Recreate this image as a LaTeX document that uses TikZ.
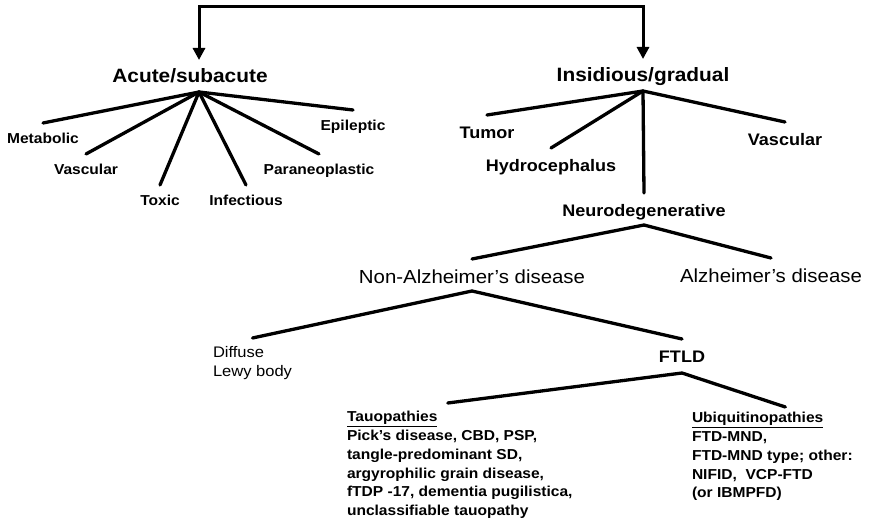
\documentclass[tikz,border=0pt]{standalone}
\usepackage{fontspec}
\setmainfont{Liberation Sans}[FakeStretch=1.08]
\usepackage{tikz}
\usetikzlibrary{positioning,arrows.meta,calc}

\begin{document}
\begin{tikzpicture}[x=1pt,y=-1pt,
	every node/.style={inner sep=0pt,outer sep=0pt,anchor=base},
	head/.style={font=\bfseries\fontsize{19.3}{22}\selectfont,text height=23pt,text depth=9pt},
	leaf/.style={font=\bfseries\fontsize{14.4}{17}\selectfont,text height=21pt},
	mid/.style={font=\bfseries\fontsize{16.7}{20}\selectfont,text height=24pt,text depth=8pt},
	big/.style={font=\fontsize{18.9}{22}\selectfont,text height=24pt,text depth=8pt},
	note/.style={font=\bfseries\fontsize{14.4}{18.7}\selectfont,align=left,anchor=north west},
	branch/.style={line width=3.3pt,line cap=round}]
			\useasboundingbox (0,0) rectangle (874,521);
			
			\node[head] (acute) at (190,83) {Acute/subacute};
			\node[head] (insid) at (643,82) {Insidious/gradual};
			
			\node[leaf] (metab) at (43,144) {Metabolic};
			\node[leaf] (vascl) at (86,175) {Vascular};
			\node[leaf] (toxic) at (160,206) {Toxic};
			\node[leaf] (infect) at (246,206) {Infectious};
			\node[leaf] (paraneo) at (319,175) {Paraneoplastic};
			\node[leaf] (epilep) at (353,131) {Epileptic};
			
			\node[mid] (tumor) at (487,139) {Tumor};
			\node[mid] (hydro) at (551,172) {Hydrocephalus};
			\node[mid] (vascr) at (785,146) {Vascular};
			\node[mid] (neuro) at (644,217) {Neurodegenerative};
			
			\node[big] (nonalz) at (472,283) {Non-Alzheimer’s disease};
			\node[big] (alz) at (771,282) {Alzheimer’s disease};
			
			\node[font=\fontsize{15.3}{19}\selectfont,align=left,anchor=north west,inner ysep=8.8pt] (lewy) at (213,338) {Diffuse\\Lewy body};
			\node[mid,text height=23pt,text depth=11pt] (ftld) at (682,362) {FTLD};
			
			\node[note,inner ysep=8.5pt] (tau) at (347,403) {\underline{Tauopathies}\\Pick’s disease, CBD, PSP,\\tangle-predominant SD,\\argyrophilic grain disease,\\fTDP -17, dementia pugilistica,\\unclassifiable tauopathy};
			\node[note,inner ysep=5.5pt] (ubiq) at (692,407) {\underline{Ubiquitinopathies}\\FTD-MND,\\FTD-MND type; other:\\NIFID,\ \ VCP-FTD\\(or IBMPFD)};
			
			\coordinate (bar) at (420,7);
			\draw[line width=3pt,{Triangle[width=12pt,length=12pt]}-{Triangle[width=12pt,length=12pt]}] ([xshift=9pt]acute.north) |- (bar) -| (insid.north);
			
			\foreach \n in {metab,vascl,toxic,infect,paraneo,epilep}
				\draw[branch] ([xshift=9pt]acute.south) -- (\n.north);
			\foreach \n in {tumor,hydro,vascr,neuro}
				\draw[branch] (insid.south) -- (\n.north);
			
			\draw[branch] (neuro.south) -- (nonalz.north);
			\draw[branch] (neuro.south) -- (alz.north);
			\draw[branch] (nonalz.south) -- (lewy.north);
			\draw[branch] (nonalz.south) -- (ftld.north);
			\draw[branch] (ftld.south) -- ([xshift=-12pt]tau.north);
			\draw[branch] (ftld.south) -- ([xshift=13pt]ubiq.north);
			
			\end{tikzpicture}
\end{document}
